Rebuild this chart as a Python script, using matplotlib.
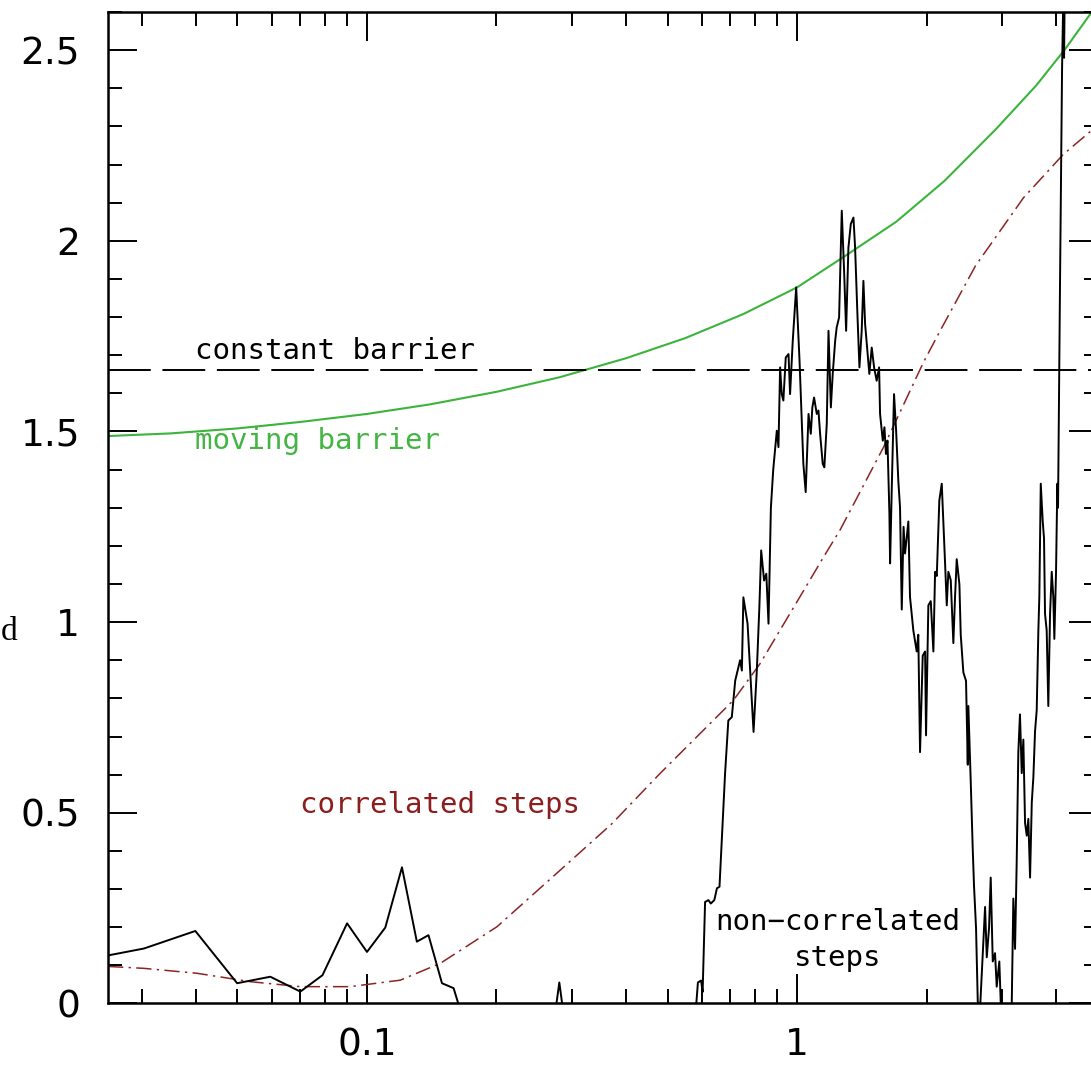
import matplotlib
matplotlib.use("Agg")
import matplotlib.pyplot as plt
from matplotlib.ticker import MultipleLocator, FuncFormatter, LogLocator, NullFormatter

# moving (ellipsoidal) barrier
barrier_s = [0.025, 0.035, 0.05, 0.07, 0.1, 0.14, 0.2, 0.28, 0.4, 0.55, 0.75,
             1.0, 1.3, 1.7, 2.2, 2.9, 3.6, 4.2, 5.0]
barrier_b = [1.488, 1.495, 1.508, 1.525, 1.546, 1.571, 1.604, 1.642, 1.692, 1.745, 1.808,
             1.878, 1.962, 2.050, 2.157, 2.293, 2.408, 2.503, 2.622]

# constant barrier height
delta_c = 1.66

# mean trajectory with correlated steps
corr_s = [0.025, 0.0303, 0.0403, 0.0536, 0.070, 0.0914, 0.1195, 0.148, 0.2005, 0.281,
          0.37, 0.48, 0.6, 0.711, 0.82, 1.0, 1.151, 1.259, 1.587, 1.966, 2.15,
          2.6, 3.36, 4.16, 4.82, 5.0]
corr_d = [0.097, 0.092, 0.079, 0.057, 0.044, 0.044, 0.061, 0.105, 0.201, 0.349,
          0.470, 0.603, 0.712, 0.795, 0.891, 1.054, 1.170, 1.242, 1.458, 1.681, 1.764,
          1.935, 2.113, 2.227, 2.288, 2.300]

# random walk with non-correlated steps
walk_s = [0.0250, 0.0253, 0.0303, 0.0399, 0.0499, 0.0596, 0.0700, 0.0788, 0.0899, 0.1000,
          0.1103, 0.1206, 0.1306, 0.1390, 0.1494, 0.1590, 0.1630, 0.190, 0.240, 0.275,
          0.280, 0.285, 0.350, 0.470, 0.575, 0.583, 0.588, 0.598, 0.603, 0.611,
          0.622, 0.630, 0.642, 0.651, 0.660, 0.668, 0.680, 0.692, 0.705, 0.718,
          0.737, 0.744, 0.750, 0.767, 0.792, 0.806, 0.817, 0.825, 0.838, 0.848,
          0.858, 0.869, 0.880, 0.897, 0.905, 0.913, 0.921, 0.929, 0.941, 0.955,
          0.963, 0.977, 0.995, 1.013, 1.034, 1.047, 1.063, 1.076, 1.085, 1.095,
          1.111, 1.121, 1.131, 1.147, 1.157, 1.172, 1.183, 1.198, 1.210, 1.226,
          1.236, 1.252, 1.270, 1.286, 1.300, 1.316, 1.333, 1.352, 1.364, 1.381,
          1.396, 1.413, 1.426, 1.439, 1.452, 1.472, 1.491, 1.510, 1.531, 1.551,
          1.559, 1.582, 1.596, 1.609, 1.622, 1.639, 1.645, 1.660, 1.680, 1.699,
          1.719, 1.735, 1.751, 1.768, 1.782, 1.814, 1.830, 1.863, 1.897, 1.913,
          1.931, 1.959, 1.984, 1.994, 2.019, 2.045, 2.074, 2.093, 2.112, 2.141,
          2.169, 2.188, 2.208, 2.228, 2.247, 2.276, 2.308, 2.329, 2.350, 2.384,
          2.401, 2.435, 2.470, 2.493, 2.501, 2.533, 2.560, 2.578, 2.606, 2.630,
          2.653, 2.710, 2.735, 2.760, 2.794, 2.819, 2.850, 2.885, 2.911, 2.952,
          2.979, 3.011, 3.080, 3.155, 3.182, 3.211, 3.240, 3.268, 3.297, 3.328,
          3.357, 3.388, 3.419, 3.448, 3.480, 3.512, 3.542, 3.574, 3.606, 3.638,
          3.657, 3.685, 3.724, 3.750, 3.770, 3.804, 3.837, 3.873, 3.908, 3.941,
          3.963, 3.999, 4.027, 4.042, 4.086, 4.130, 4.152, 4.175, 4.197]
walk_d = [0.125, 0.127, 0.144, 0.190, 0.053, 0.070, 0.031, 0.074, 0.210, 0.135,
          0.199, 0.357, 0.162, 0.179, 0.053, 0.040, 0.000, -0.200, -0.100, -0.010,
          0.055, -0.010, -0.250, -0.200, -0.030, 0.000, 0.055, 0.060, 0.030, 0.266,
          0.271, 0.262, 0.271, 0.302, 0.306, 0.428, 0.603, 0.742, 0.751, 0.847,
          0.900, 0.873, 1.065, 0.996, 0.712, 0.873, 1.039, 1.188, 1.109, 1.127,
          0.996, 1.300, 1.400, 1.502, 1.459, 1.668, 1.598, 1.581, 1.694, 1.703,
          1.598, 1.738, 1.878, 1.686, 1.415, 1.341, 1.546, 1.494, 1.563, 1.589,
          1.546, 1.555, 1.494, 1.415, 1.406, 1.520, 1.764, 1.563, 1.651, 1.738,
          1.773, 1.799, 2.079, 1.921, 1.764, 1.982, 2.044, 2.061, 1.982, 1.808,
          1.668, 1.764, 1.895, 1.782, 1.729, 1.651, 1.720, 1.668, 1.633, 1.668,
          1.546, 1.476, 1.511, 1.441, 1.476, 1.284, 1.154, 1.354, 1.598, 1.502,
          1.371, 1.300, 1.033, 1.250, 1.180, 1.264, 1.066, 0.978, 0.923, 0.967,
          0.659, 0.912, 0.923, 0.703, 1.044, 1.055, 0.923, 1.132, 1.121, 1.319,
          1.363, 1.264, 1.154, 1.044, 1.132, 1.110, 0.945, 1.066, 1.165, 1.099,
          0.967, 0.868, 0.846, 0.626, 0.780, 0.582, 0.407, 0.308, 0.198, 0.006,
          -0.050, 0.165, 0.253, 0.121, 0.198, 0.330, 0.110, 0.132, 0.044, 0.110,
          -0.020, -0.100, -0.120, 0.000, 0.275, 0.143, 0.374, 0.659, 0.758, 0.604,
          0.692, 0.473, 0.440, 0.484, 0.330, 0.527, 0.593, 0.714, 0.769, 0.978,
          1.066, 1.363, 1.264, 1.220, 1.022, 0.978, 0.780, 1.022, 1.132, 1.066,
          0.956, 1.132, 1.363, 1.300, 1.900, 2.450, 2.600, 2.480, 2.750]

fig = plt.figure(figsize=(10.91, 10.66), dpi=100)
ax = fig.add_axes([0.0990, 0.0587, 0.9072, 0.9300])

ax.plot(barrier_s, barrier_b, color='#3cb43c', lw=1.5)
ax.axhline(delta_c, color='black', lw=1.4, linestyle=(0, (22, 6)))
ax.plot(corr_s, corr_d, color='#8b2525', lw=1.1, linestyle=(0, (10, 3.5, 1.5, 3.5)))
ax.plot(walk_s, walk_d, color='black', lw=1.4)

ax.set_xscale('log')
ax.set_xlim(0.025, 5.0)
ax.set_ylim(0, 2.6)

ax.xaxis.set_major_locator(LogLocator(base=10, numticks=10))
ax.xaxis.set_minor_locator(LogLocator(base=10, subs=range(2, 10), numticks=10))
ax.xaxis.set_major_formatter(FuncFormatter(lambda v, p: '%g' % v))
ax.xaxis.set_minor_formatter(NullFormatter())
ax.yaxis.set_major_locator(MultipleLocator(0.5))
ax.yaxis.set_minor_locator(MultipleLocator(0.1))
ax.yaxis.set_major_formatter(FuncFormatter(lambda v, p: '%g' % v))

ax.tick_params(which='both', direction='in', top=True, right=True, width=1.4)
ax.tick_params(which='major', length=21, labelsize=27)
ax.tick_params(which='minor', length=10)
ax.tick_params(axis='y', which='major', pad=20)
ax.tick_params(axis='x', which='major', pad=17)
for sp in ax.spines.values():
    sp.set_linewidth(1.8)

mono = 'DejaVu Sans Mono'
ax.text(0.0399, 1.691, 'constant barrier', fontsize=21, family=mono, color='black')
ax.text(0.0399, 1.455, 'moving barrier', fontsize=21, family=mono, color='#44b544')
ax.text(0.070, 0.499, 'correlated steps', fontsize=21, family=mono, color='#8b1e1e')
ax.text(1.245, 0.193, 'non\u2212correlated', fontsize=21, family=mono, ha='center')
ax.text(1.245, 0.098, 'steps', fontsize=21, family=mono, ha='center')

fig.text(1 / 1091, 1 - 640 / 1066, 'd', fontsize=24, family='Liberation Serif',
         ha='left', va='baseline')

fig.savefig('out.png', dpi=100)
